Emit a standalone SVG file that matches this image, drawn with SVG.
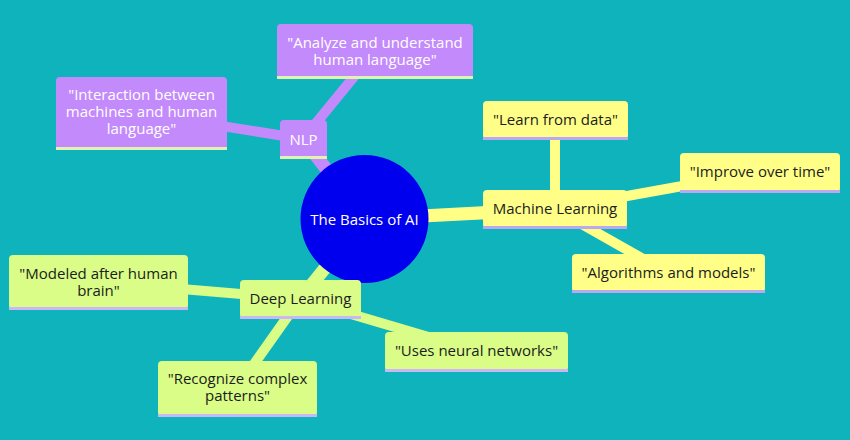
<svg xmlns="http://www.w3.org/2000/svg" width="850" height="440" viewBox="0 0 850 440">
<style>
.t{font-family:"Open Sans","Noto Sans","Liberation Sans",sans-serif;font-size:15px;text-anchor:middle}
.w{fill:#ffffff}
.d{fill:#1c1c1c}
.p{fill:#c38afc}
.y{fill:#ffff88}
.g{fill:#d9fd86}
.sp{fill:#e2f3b0}
.sy{fill:#bca8f2}
.sg{fill:#c9b8f5}
.e{fill:none;stroke-linecap:butt}
.ep{stroke:#c38afc}
.ey{stroke:#ffff88}
.eg{stroke:#d9fd86}
.r{stroke-width:13}
.l{stroke-width:10}
</style>
<rect width="850" height="440" fill="#0fb3bc"/>
<g id="connectors">
<line class="e ep r" x1="365" y1="219" x2="303" y2="139"/>
<line class="e ey r" x1="365" y1="219" x2="555" y2="209"/>
<line class="e eg r" x1="365" y1="219" x2="300" y2="299"/>
<line class="e ep l" x1="303" y1="139" x2="141" y2="113"/>
<line class="e ep l" x1="303" y1="139" x2="375" y2="51"/>
<line class="e ey l" x1="555" y1="209" x2="555" y2="120"/>
<line class="e ey l" x1="555" y1="209" x2="760" y2="172"/>
<line class="e ey l" x1="555" y1="209" x2="668" y2="273"/>
<line class="e eg l" x1="300" y1="299" x2="98" y2="282"/>
<line class="e eg l" x1="300" y1="299" x2="237" y2="388"/>
<line class="e eg l" x1="300" y1="299" x2="476" y2="351"/>
</g>
<g id="root">
<circle cx="364.5" cy="219" r="64" fill="#0000ee"/>
<text class="t w" x="364.5" y="224.5">The Basics of AI</text>
</g>
<g id="nlp">
<rect class="p" x="280" y="120" width="47" height="38" rx="4"/>
<rect class="sp" x="280" y="156" width="47" height="3"/>
<text class="t w" x="303.5" y="145">NLP</text>
</g>
<g id="nlp-interaction">
<rect class="p" x="56" y="77" width="171" height="72" rx="4"/>
<rect class="sp" x="56" y="147" width="171" height="3"/>
<text class="t w" x="141.5" y="100">"Interaction between</text>
<text class="t w" x="141.5" y="117">machines and human</text>
<text class="t w" x="141.5" y="134">language"</text>
</g>
<g id="nlp-analyze">
<rect class="p" x="277" y="24" width="196" height="54" rx="4"/>
<rect class="sp" x="277" y="76" width="196" height="3"/>
<text class="t w" x="375" y="48">"Analyze and understand</text>
<text class="t w" x="375" y="65">human language"</text>
</g>
<g id="ml">
<rect class="y" x="483" y="190" width="144" height="38" rx="4"/>
<rect class="sy" x="483" y="226" width="144" height="3"/>
<text class="t d" x="555" y="214">Machine Learning</text>
</g>
<g id="ml-learn">
<rect class="y" x="483" y="101" width="145" height="38" rx="4"/>
<rect class="sy" x="483" y="137" width="145" height="3"/>
<text class="t d" x="555.5" y="125">"Learn from data"</text>
</g>
<g id="ml-improve">
<rect class="y" x="680" y="153" width="160" height="39" rx="4"/>
<rect class="sy" x="680" y="190" width="160" height="3"/>
<text class="t d" x="760" y="177">"Improve over time"</text>
</g>
<g id="ml-algorithms">
<rect class="y" x="572" y="254" width="193" height="38" rx="4"/>
<rect class="sy" x="572" y="290" width="193" height="3"/>
<text class="t d" x="668.5" y="278">"Algorithms and models"</text>
</g>
<g id="dl">
<rect class="g" x="240" y="280" width="121" height="38" rx="4"/>
<rect class="sg" x="240" y="316" width="121" height="3"/>
<text class="t d" x="300.5" y="304">Deep Learning</text>
</g>
<g id="dl-modeled">
<rect class="g" x="9" y="255" width="179" height="54" rx="4"/>
<rect class="sg" x="9" y="307" width="179" height="3"/>
<text class="t d" x="98.5" y="279">"Modeled after human</text>
<text class="t d" x="98.5" y="296">brain"</text>
</g>
<g id="dl-recognize">
<rect class="g" x="158" y="361" width="159" height="55" rx="4"/>
<rect class="sg" x="158" y="414" width="159" height="3"/>
<text class="t d" x="237.5" y="384">"Recognize complex</text>
<text class="t d" x="237.5" y="401">patterns"</text>
</g>
<g id="dl-neural">
<rect class="g" x="385" y="332" width="183" height="39" rx="4"/>
<rect class="sg" x="385" y="369" width="183" height="3"/>
<text class="t d" x="476.5" y="356">"Uses neural networks"</text>
</g>
</svg>
